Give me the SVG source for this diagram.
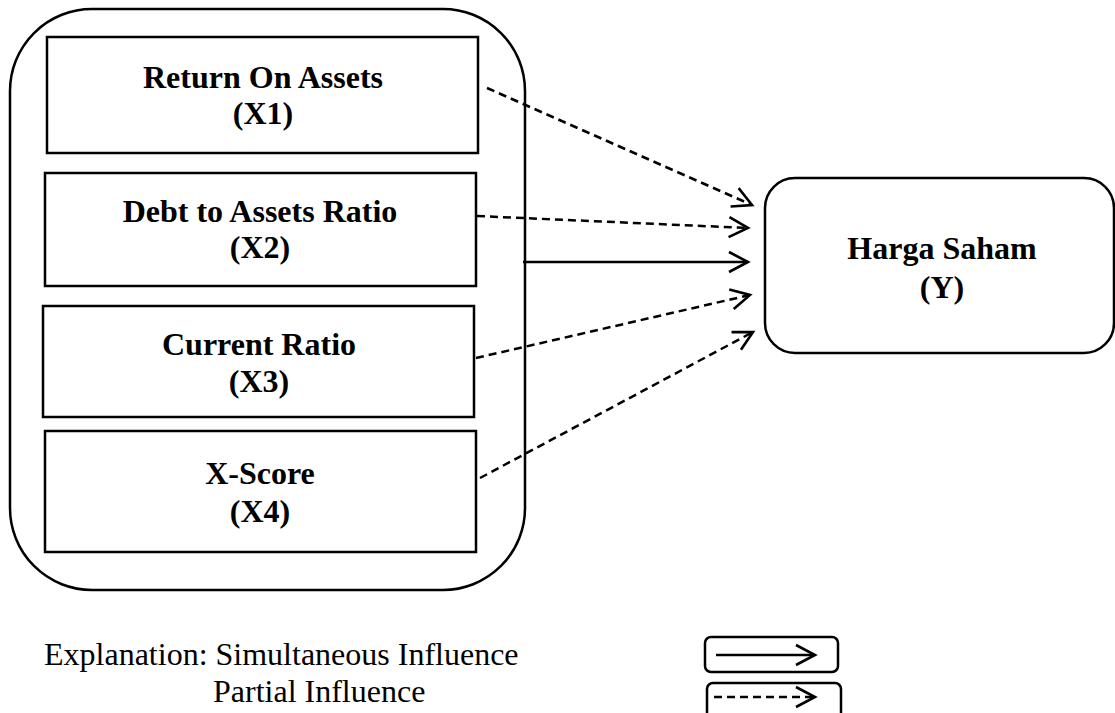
<svg xmlns="http://www.w3.org/2000/svg" width="1115" height="713" viewBox="0 0 1115 713">
  <style>
    .box { fill: #fff; stroke: #000; stroke-width: 2.5; }
    .lbl { font-family: "Liberation Serif", "Times New Roman", serif; font-size: 32px; font-weight: bold; text-anchor: middle; fill: #000; }
    .note { font-family: "Liberation Serif", "Times New Roman", serif; font-size: 32px; fill: #000; }
    .edge { fill: none; stroke: #000; stroke-width: 2.5; }
    .dash { stroke-dasharray: 8 5; }
  </style>
  <defs>
    <marker id="open" markerUnits="userSpaceOnUse" markerWidth="26" markerHeight="26" refX="21" refY="12" orient="auto">
      <path d="M2,2 L21,12 L2,22" fill="none" stroke="#000" stroke-width="2.6" stroke-dasharray="none"/>
    </marker>
  </defs>

  <rect width="1115" height="713" fill="#fff"/>

  <!-- independent variables container -->
  <g id="group-x">
    <rect class="box" x="10" y="9" width="515" height="581" rx="82" ry="82"/>
  </g>

  <g id="x1">
    <rect class="box" x="47" y="37" width="431" height="116"/>
    <text class="lbl" x="263" y="88">Return On Assets</text>
    <text class="lbl" x="263" y="124">(X1)</text>
  </g>

  <g id="x2">
    <rect class="box" x="45" y="173" width="431" height="113"/>
    <text class="lbl" x="260" y="222">Debt to Assets Ratio</text>
    <text class="lbl" x="260" y="258">(X2)</text>
  </g>

  <g id="x3">
    <rect class="box" x="43" y="306" width="431" height="111"/>
    <text class="lbl" x="259" y="355">Current Ratio</text>
    <text class="lbl" x="259" y="392">(X3)</text>
  </g>

  <g id="x4">
    <rect class="box" x="45" y="431" width="431" height="121"/>
    <text class="lbl" x="260" y="484">X-Score</text>
    <text class="lbl" x="260" y="522">(X4)</text>
  </g>

  <g id="y">
    <rect class="box" x="765" y="178" width="349" height="175" rx="30" ry="30"/>
    <text class="lbl" x="942" y="259">Harga Saham</text>
    <text class="lbl" x="942" y="298">(Y)</text>
  </g>

  <!-- connectors -->
  <g id="connectors">
    <line class="edge dash" x1="487" y1="88" x2="752" y2="205" marker-end="url(#open)"/>
    <line class="edge dash" x1="477" y1="216" x2="748" y2="228" marker-end="url(#open)"/>
    <line class="edge" x1="523" y1="262" x2="748" y2="262" marker-end="url(#open)"/>
    <line class="edge dash" x1="476" y1="358" x2="750" y2="295" marker-end="url(#open)"/>
    <line class="edge dash" x1="480" y1="478" x2="753" y2="332" marker-end="url(#open)"/>
  </g>

  <!-- legend -->
  <g id="legend">
    <text class="note" x="44" y="665">Explanation: Simultaneous Influence</text>
    <text class="note" x="213" y="702">Partial Influence</text>
    <rect class="box" x="705" y="637" width="133" height="35" rx="6" ry="6"/>
    <line class="edge" x1="716" y1="655" x2="815" y2="655" marker-end="url(#open)"/>
    <rect class="box" x="707" y="683" width="134" height="40" rx="6" ry="6"/>
    <line class="edge dash" x1="714" y1="697" x2="815" y2="697" marker-end="url(#open)"/>
  </g>
</svg>
